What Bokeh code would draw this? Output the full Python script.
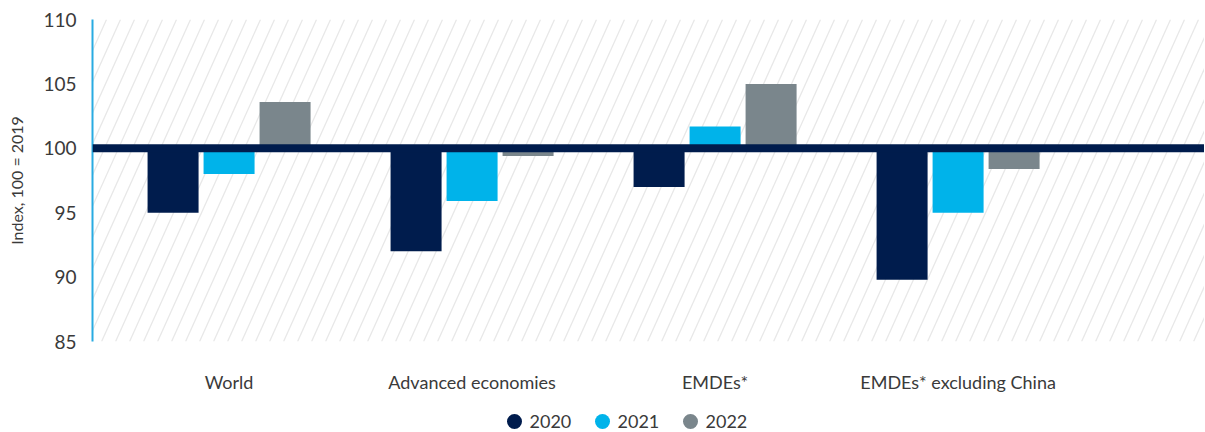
import numpy as np
from bokeh.plotting import figure
from bokeh.layouts import column
from bokeh.models import Range1d, FixedTicker, Span, ColumnDataSource
from bokeh.core.properties import value
from bokeh.embed import file_html
from bokeh.resources import INLINE

categories = ["World", "Advanced economies", "EMDEs*", "EMDEs* excluding China"]
years = ["2020", "2021", "2022"]
v2020 = [95.0, 92.0, 97.0, 89.8]
v2021 = [98.0, 95.9, 101.7, 95.0]
v2022 = [103.6, 99.4, 105.0, 98.4]
y_ticks = [85, 90, 95, 100, 105, 110]

colors = ["#001C4D", "#00B3EA", "#7A868C"]
FONT = "Lato"
TXT = "#3a3a3a"

p = figure(width=1204, height=410, output_backend="svg", toolbar_location=None,
           x_range=Range1d(-0.562, 4.014), y_range=Range1d(85, 110),
           min_border_left=92, min_border_right=0, min_border_top=19, min_border_bottom=69)
p.outline_line_color = None
p.xgrid.visible = False
p.ygrid.visible = False
p.background_fill_color = "white"

# diagonal hatch background (decoration)
px_x = 1 / 243.0
slant = 0.45 * 322 * px_x
step = 14 * px_x
x0s = np.arange(-0.562 - slant, 4.014 + step, step)
p.segment(x0=x0s, y0=[85] * len(x0s), x1=x0s + slant, y1=[110] * len(x0s),
          line_color="#e8e8e8", line_width=1.3)

xs = np.arange(len(categories))
offs = [-56 * px_x, 0, 56 * px_x]
w = 51 * px_x
for vals, off, c in zip([v2020, v2021, v2022], offs, colors):
    src = ColumnDataSource(dict(x=list(xs + off), top=vals, bottom=[100] * len(vals)))
    p.vbar(x="x", top="top", bottom="bottom", width=w, source=src,
           fill_color=c, line_color=None)

p.add_layout(Span(location=100, dimension="width", line_color="#001C4D", line_width=8))

xa = p.xaxis[0]
xa.ticker = FixedTicker(ticks=list(range(len(categories))))
xa.major_label_overrides = {i: c for i, c in enumerate(categories)}
xa.axis_line_color = None
xa.major_tick_line_color = None
xa.minor_tick_line_color = None
xa.major_label_text_font = FONT
xa.major_label_text_font_size = "18px"
xa.major_label_text_color = TXT
xa.major_label_standoff = 23

ya = p.yaxis[0]
ya.ticker = FixedTicker(ticks=y_ticks)
ya.axis_line_color = "#29ABE2"
ya.axis_line_width = 2
ya.major_tick_line_color = None
ya.minor_tick_line_color = None
ya.major_label_text_font = FONT
ya.major_label_text_font_size = "19px"
ya.major_label_text_color = TXT
ya.major_label_standoff = 10
ya.axis_label = "Index, 100 = 2019"
ya.axis_label_text_font = FONT
ya.axis_label_text_font_size = "16px"
ya.axis_label_text_font_style = "normal"
ya.axis_label_text_color = TXT
ya.axis_label_standoff = 14

# legend strip below the chart (its frame is aligned with the main frame;
# x coordinates here are page pixels)
lf = figure(width=1204, height=22, output_backend="svg", toolbar_location=None,
            x_range=Range1d(93, 1205), y_range=Range1d(0, 1),
            x_axis_location=None, y_axis_location=None,
            min_border_left=0, min_border_right=0, min_border_top=0, min_border_bottom=0)
lf.outline_line_color = None
lf.xgrid.visible = False
lf.ygrid.visible = False
leg_x = [515 + 88 * i for i in range(len(years))]
lsrc = ColumnDataSource(dict(x=leg_x, tx=[v + 15 for v in leg_x], y=[0.5] * len(years),
                             label=years, color=colors))
lf.scatter(x="x", y="y", source=lsrc, marker="circle", size=15,
           fill_color="color", line_color=None)
lf.text(x="tx", y="y", text="label", source=lsrc, text_font=value(FONT),
        text_font_size="18px", text_color=TXT, text_align="left", text_baseline="middle")

layout = column(p, lf, spacing=0)
open("out.html", "w").write(file_html(layout, INLINE))
